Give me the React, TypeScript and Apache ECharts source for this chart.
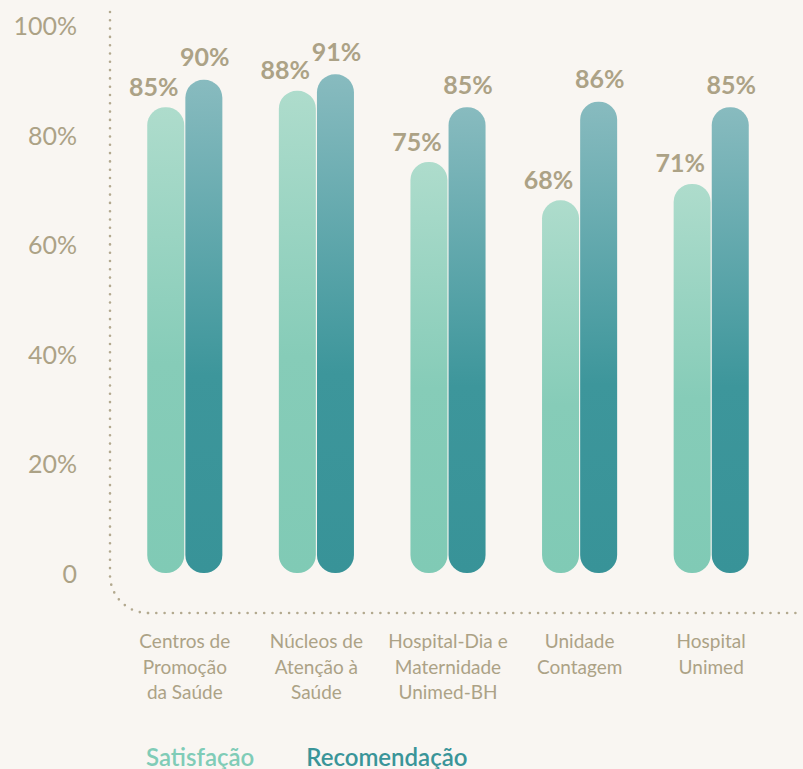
import React, { useEffect, useRef } from "react";
import * as echarts from "echarts";

const categories = [
  "Centros de\nPromoção\nda Saúde",
  "Núcleos de\nAtenção à\nSaúde",
  "Hospital-Dia e\nMaternidade\nUnimed-BH",
  "Unidade\nContagem",
  "Hospital\nUnimed",
];
const satisfacao = [85, 88, 75, 68, 71];
const recomendacao = [90, 91, 85, 86, 85];
const seriesNames = ["Satisfação", "Recomendação"];
const yTicks = { min: 0, max: 100, interval: 20 };

const BG = "#f9f6f2";
const TXT = "#aca286";
const DOT = "#b3a98f";
const FONT = "Lato, 'Open Sans', sans-serif";

export default function App() {
  const ref = useRef<HTMLDivElement>(null);
  useEffect(() => {
    if (!ref.current) return;
    const chart = echarts.init(ref.current, undefined, { renderer: "svg" });
    const gradSat = new echarts.graphic.LinearGradient(0, 0, 0, 1, [
      { offset: 0, color: "#aedccc" },
      { offset: 0.55, color: "#86ccb8" },
      { offset: 1, color: "#80cab5" },
    ]);
    const gradRec = new echarts.graphic.LinearGradient(0, 0, 0, 1, [
      { offset: 0, color: "#88bbbf" },
      { offset: 0.6, color: "#3d969b" },
      { offset: 1, color: "#389398" },
    ]);
    const dotStyle = {
      stroke: DOT,
      lineWidth: 2.6,
      lineDash: [0, 8.3],
      lineCap: "round",
      fill: null,
    };
    chart.setOption({
      animation: false,
      backgroundColor: BG,
      textStyle: { fontFamily: FONT },
      grid: { left: 119, right: 26, top: 25, bottom: 196 },
      legend: {
        left: 146,
        top: 744,
        padding: 0,
        icon: "none",
        itemGap: 52,
        itemWidth: 0,
        itemHeight: 0,
        selectedMode: false,
        data: [
          { name: seriesNames[0], textStyle: { color: "#80ccb7" } },
          { name: seriesNames[1], textStyle: { color: "#3a9599" } },
        ],
        textStyle: { fontSize: 24, fontWeight: 600, fontFamily: FONT, padding: [0, 0, 0, -5] },
      },
      xAxis: {
        type: "category",
        data: categories,
        axisLine: { show: false },
        axisTick: { show: false },
        axisLabel: {
          color: TXT,
          fontSize: 19,
          lineHeight: 25.5,
          margin: 55,
          fontFamily: FONT,
          interval: 0,
          verticalAlign: "top",
        },
      },
      yAxis: {
        type: "value",
        min: yTicks.min,
        max: yTicks.max,
        interval: yTicks.interval,
        axisLine: { show: false },
        axisTick: { show: false },
        splitLine: { show: false },
        axisLabel: {
          color: TXT,
          fontSize: 25,
          margin: 42,
          fontFamily: FONT,
          formatter: (v: number) => (v === 0 ? "0" : v + "%"),
        },
      },
      series: [
        {
          name: seriesNames[0],
          type: "bar",
          data: satisfacao,
          barWidth: 37,
          barGap: "3%",
          itemStyle: { color: gradSat, borderRadius: 18 },
          label: {
            show: true,
            position: "top",
            distance: 9,
            offset: [-12, 0],
            formatter: "{c}%",
            color: TXT,
            fontSize: 25,
            fontWeight: "bold",
            fontFamily: FONT,
          },
        },
        {
          name: seriesNames[1],
          type: "bar",
          data: recomendacao,
          barWidth: 37,
          itemStyle: { color: gradRec, borderRadius: 18 },
          label: {
            show: true,
            position: "top",
            distance: 11,
            offset: [1, 0],
            formatter: "{c}%",
            color: TXT,
            fontSize: 25,
            fontWeight: "bold",
            fontFamily: FONT,
          },
        },
      ],
      graphic: [
        {
          type: "line",
          silent: true,
          shape: { x1: 110, y1: 12, x2: 110, y2: 575 },
          style: dotStyle,
        },
        {
          type: "arc",
          silent: true,
          shape: { cx: 148, cy: 575, r: 38, startAngle: Math.PI / 2, endAngle: Math.PI, clockwise: true },
          style: dotStyle,
        },
        {
          type: "line",
          silent: true,
          shape: { x1: 148, y1: 613, x2: 803, y2: 613 },
          style: dotStyle,
        },
      ],
    });
    return () => chart.dispose();
  }, []);
  return (
    <div
      ref={ref}
      style={{ position: "fixed", left: 0, top: 0, width: 803, height: 769, background: BG }}
    />
  );
}
